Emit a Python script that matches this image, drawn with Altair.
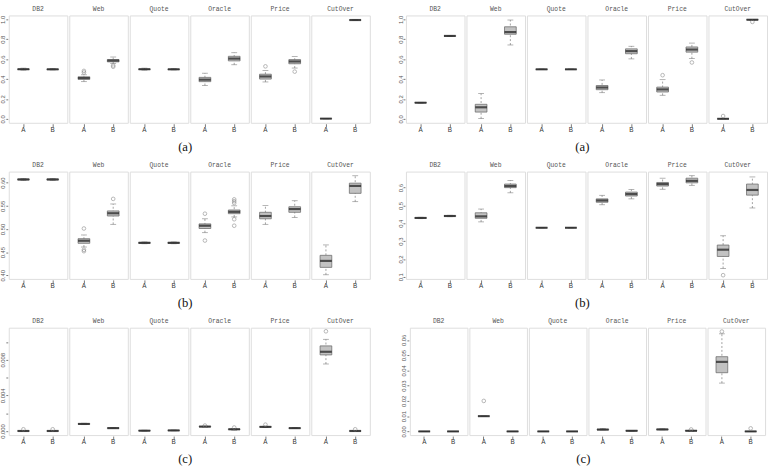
import altair as alt
import pandas as pd

SYSTEMS = ["DB2", "Web", "Quote", "Oracle", "Price", "CutOver"]
GROUPS = ["A", "B"]
CAPTIONS = ["(a)", "(a)", "(b)", "(b)", "(c)", "(c)"]

# order of the 12 boxes: DB2 A, DB2 B, Web A, Web B, Quote A, Quote B,
# Oracle A, Oracle B, Price A, Price B, CutOver A, CutOver B

# ---- panel 1 (top left)
P1_LO = [0.490, 0.492, 0.374, 0.557, 0.490, 0.492, 0.335, 0.544, 0.371, 0.511, 0.000, 0.992]
P1_Q1 = [0.496, 0.496, 0.397, 0.573, 0.496, 0.496, 0.374, 0.583, 0.400, 0.554, 0.001, 0.993]
P1_MED = [0.499, 0.498, 0.410, 0.586, 0.499, 0.498, 0.394, 0.606, 0.426, 0.577, 0.002, 0.994]
P1_Q3 = [0.502, 0.501, 0.423, 0.596, 0.502, 0.501, 0.417, 0.629, 0.449, 0.596, 0.003, 0.995]
P1_HI = [0.510, 0.506, 0.443, 0.622, 0.510, 0.506, 0.459, 0.665, 0.485, 0.626, 0.004, 0.996]
P1_OUT = [(2, 0.466), (2, 0.482), (3, 0.537), (3, 0.524), (8, 0.528), (9, 0.475)]

# ---- panel 2 (top right)
P2_LO = [0.158, 0.828, 0.002, 0.743, 0.495, 0.495, 0.263, 0.603, 0.237, 0.606, 0.000, 0.990]
P2_Q1 = [0.160, 0.831, 0.068, 0.851, 0.497, 0.497, 0.293, 0.655, 0.270, 0.671, 0.000, 0.995]
P2_MED = [0.162, 0.834, 0.116, 0.873, 0.498, 0.498, 0.315, 0.681, 0.296, 0.697, 0.000, 0.997]
P2_Q3 = [0.164, 0.836, 0.146, 0.926, 0.499, 0.499, 0.335, 0.704, 0.319, 0.723, 0.001, 0.998]
P2_HI = [0.166, 0.839, 0.254, 0.994, 0.501, 0.501, 0.391, 0.730, 0.394, 0.762, 0.002, 0.999]
P2_OUT = [(8, 0.439), (9, 0.567), (10, 0.028), (11, 0.975)]

# ---- panel 3 (middle left)
P3_LO = [0.605, 0.605, 0.461, 0.510, 0.468, 0.468, 0.492, 0.526, 0.510, 0.525, 0.401, 0.559]
P3_Q1 = [0.606, 0.606, 0.469, 0.528, 0.469, 0.469, 0.501, 0.533, 0.522, 0.536, 0.417, 0.577]
P3_MED = [0.607, 0.607, 0.4745, 0.534, 0.470, 0.470, 0.507, 0.537, 0.528, 0.543, 0.431, 0.593]
P3_Q3 = [0.608, 0.608, 0.479, 0.539, 0.471, 0.471, 0.511, 0.541, 0.536, 0.548, 0.443, 0.599]
P3_HI = [0.609, 0.609, 0.487, 0.554, 0.472, 0.472, 0.522, 0.550, 0.551, 0.561, 0.4655, 0.615]
P3_OUT = [(2, 0.501), (2, 0.455), (2, 0.452), (3, 0.565), (6, 0.533), (6, 0.475),
          (7, 0.564), (7, 0.560), (7, 0.556), (7, 0.521), (7, 0.507)]

# ---- panel 4 (middle right)
P4_LO = [0.426, 0.437, 0.408, 0.571, 0.375, 0.375, 0.504, 0.537, 0.591, 0.613, 0.147, 0.486]
P4_Q1 = [0.428, 0.439, 0.428, 0.600, 0.375, 0.375, 0.518, 0.553, 0.609, 0.627, 0.214, 0.558]
P4_MED = [0.430, 0.441, 0.439, 0.609, 0.375, 0.375, 0.528, 0.564, 0.620, 0.638, 0.252, 0.587]
P4_Q3 = [0.432, 0.443, 0.459, 0.620, 0.375, 0.375, 0.537, 0.575, 0.629, 0.653, 0.278, 0.620]
P4_HI = [0.434, 0.445, 0.480, 0.640, 0.375, 0.375, 0.557, 0.589, 0.653, 0.667, 0.330, 0.660]
P4_OUT = [(10, 0.109)]

# ---- panel 5 (bottom left)
P5_LO = [0.00000, 0.00000, 0.00072, 0.00028, 0.00000, 0.00003, 0.00044, 0.00010, 0.00040, 0.00028, 0.00753, 0.00000]
P5_Q1 = [0.00000, 0.00000, 0.00076, 0.00031, 0.00002, 0.00005, 0.00047, 0.00017, 0.00044, 0.00030, 0.00855, 0.00000]
P5_MED = [0.00001, 0.00001, 0.00080, 0.00033, 0.00004, 0.00007, 0.00050, 0.00020, 0.00047, 0.00033, 0.00890, 0.00001]
P5_Q3 = [0.00002, 0.00002, 0.00084, 0.00036, 0.00007, 0.00010, 0.00053, 0.00024, 0.00050, 0.00036, 0.00956, 0.00002]
P5_HI = [0.00004, 0.00004, 0.00088, 0.00039, 0.00010, 0.00012, 0.00056, 0.00030, 0.00055, 0.00038, 0.01030, 0.00004]
P5_OUT = [(0, 0.0002), (1, 0.0002), (6, 0.00062), (7, 0.0004), (8, 0.00072), (10, 0.0112), (11, 0.0002)]

# ---- panel 6 (bottom right)
P6_LO = [0.0000, 0.0000, 0.0100, 0.0000, 0.0000, 0.0000, 0.0010, 0.0002, 0.0010, 0.0001, 0.0317, 0.0000]
P6_Q1 = [0.0000, 0.0000, 0.0100, 0.0000, 0.0000, 0.0000, 0.0010, 0.0003, 0.0011, 0.0003, 0.0385, 0.0000]
P6_MED = [0.0000, 0.0000, 0.0100, 0.0000, 0.0000, 0.0000, 0.0012, 0.0004, 0.0013, 0.0004, 0.0456, 0.0000]
P6_Q3 = [0.0000, 0.0000, 0.0100, 0.0000, 0.0000, 0.0000, 0.0014, 0.0005, 0.0015, 0.0006, 0.0490, 0.0000]
P6_HI = [0.0000, 0.0000, 0.0100, 0.0000, 0.0000, 0.0000, 0.0020, 0.0006, 0.0017, 0.0008, 0.0640, 0.0000]
P6_OUT = [(2, 0.020), (9, 0.0013), (10, 0.0655), (11, 0.002)]

# y axis settings per panel
DOMAINS = [[-0.04, 1.04], [-0.04, 1.04], [0.392, 0.624], [0.088, 0.69],
           [-0.00045, 0.0116], [-0.0024, 0.068]]
TICKS = [[0, 0.2, 0.4, 0.6, 0.8, 1.0], [0, 0.2, 0.4, 0.6, 0.8, 1.0],
         [0.40, 0.45, 0.50, 0.55, 0.60], [0.1, 0.2, 0.3, 0.4, 0.5, 0.6],
         [0.0, 0.002, 0.004, 0.006, 0.008, 0.010],
         [0.0, 0.01, 0.02, 0.03, 0.04, 0.05, 0.06]]
FORMATS = [".1f", ".1f", ".2f", ".1f", ".3f", ".2f"]
SHOWN = [None, None, None, None, ["0.000", "0.004", "0.008"], None]

PANELS = [
    (P1_LO, P1_Q1, P1_MED, P1_Q3, P1_HI, P1_OUT),
    (P2_LO, P2_Q1, P2_MED, P2_Q3, P2_HI, P2_OUT),
    (P3_LO, P3_Q1, P3_MED, P3_Q3, P3_HI, P3_OUT),
    (P4_LO, P4_Q1, P4_MED, P4_Q3, P4_HI, P4_OUT),
    (P5_LO, P5_Q1, P5_MED, P5_Q3, P5_HI, P5_OUT),
    (P6_LO, P6_Q1, P6_MED, P6_Q3, P6_HI, P6_OUT),
]


def build_df(lo, q1, med, q3, hi, out):
    rows = []
    for i in range(12):
        rows.append(dict(sys=SYSTEMS[i // 2], grp=GROUPS[i % 2], kind="box",
                         lo=lo[i], q1=q1[i], med=med[i], q3=q3[i], hi=hi[i], v=None))
    for i, v in out:
        rows.append(dict(sys=SYSTEMS[i // 2], grp=GROUPS[i % 2], kind="out",
                         lo=None, q1=None, med=None, q3=None, hi=None, v=v))
    return pd.DataFrame(rows)


LABEL_C = "#555555"


def panel(k, cell_w=60, cell_h=110):
    df = build_df(*PANELS[k])
    yaxis_kw = dict(title=None, values=TICKS[k], format=FORMATS[k], labelAngle=270,
                    labelAlign="center", labelBaseline="bottom", labelPadding=0,
                    tickSize=2, labelFontSize=6, labelColor=LABEL_C, tickColor="#777777",
                    grid=False, domain=False, labelOverlap=False, labelBound=False,
                    labelFlush=False, minExtent=8, maxExtent=8)
    if SHOWN[k]:
        yaxis_kw["labelExpr"] = "indexof(%s, datum.label) >= 0 ? datum.label : ''" % str(SHOWN[k])
    yscale = alt.Scale(domain=DOMAINS[k], nice=False, zero=False)
    yax = alt.Axis(**yaxis_kw)

    def Y(field):
        return alt.Y(field, scale=yscale, axis=yax)

    x = alt.X("grp:N", sort=GROUPS, scale=alt.Scale(paddingInner=0, paddingOuter=0),
              axis=alt.Axis(title=None, labelAngle=0, tickSize=3, labelPadding=0,
                            labelFontSize=6.5, labelColor="#333333", tickColor="#777777",
                            grid=False, domain=False))
    base = alt.Chart().encode(x=x)
    boxes = base.transform_filter("datum.kind == 'box'")
    whisk = boxes.mark_rule(color="#888888", strokeWidth=0.8, strokeDash=[2, 2]).encode(
        y=Y("lo:Q"), y2="hi:Q")
    cap_lo = boxes.mark_tick(size=6, thickness=0.8, color="#777777").encode(y=Y("lo:Q"))
    cap_hi = boxes.mark_tick(size=6, thickness=0.8, color="#777777").encode(y=Y("hi:Q"))
    box = boxes.mark_bar(size=12, fill="#c2c2c2", stroke="#6e6e6e", strokeWidth=0.8).encode(
        y=Y("q1:Q"), y2="q3:Q")
    med = boxes.mark_tick(size=12, thickness=2.2, color="#1a1a1a").encode(y=Y("med:Q"))
    outl = base.transform_filter("datum.kind == 'out'").mark_point(
        shape="circle", size=14, filled=False, color="#808080", strokeWidth=0.8).encode(
        y=Y("v:Q"))
    layer = alt.layer(whisk, cap_lo, cap_hi, box, med, outl, data=df).properties(
        width=cell_w, height=cell_h)
    return layer.facet(
        column=alt.Column("sys:N", sort=SYSTEMS, title=None,
                          header=alt.Header(labelFont="Liberation Mono", labelFontSize=6.5,
                                            labelColor=LABEL_C, labelPadding=2)),
        spacing=0,
    ).properties(
        title=alt.TitleParams(CAPTIONS[k], orient="bottom", anchor="middle",
                              font="Liberation Serif", fontSize=13, fontWeight="normal",
                              color="#111111", offset=8)
    )


rows = [
    alt.hconcat(panel(0), panel(1), spacing=27),
    alt.hconcat(panel(2), panel(3), spacing=27),
    alt.hconcat(panel(4), panel(5, cell_w=59), spacing=31),
]
chart = alt.vconcat(*rows, spacing=8).properties(
    padding={"left": 0, "right": 0, "top": 0, "bottom": 0}
).configure_view(stroke="#8a8a8a", strokeWidth=1).configure_axis(grid=False).configure_axisY(
    labelOverlap=False).configure(background="white")

chart.save("out.html", embed_options={"renderer": "svg", "actions": False})
